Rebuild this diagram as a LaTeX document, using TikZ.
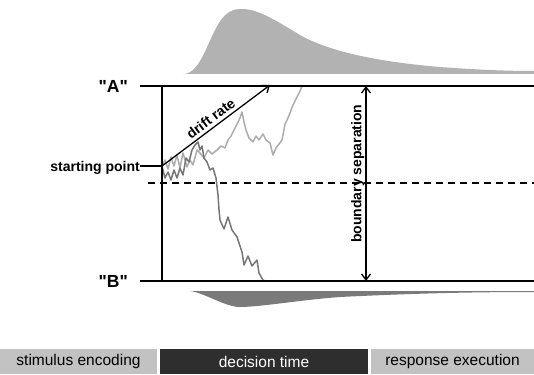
\documentclass[tikz,border=0pt]{standalone}
\usepackage{fontspec}
\setmainfont{Liberation Sans}
\usetikzlibrary{arrows.meta}
\definecolor{rtupper}{RGB}{178,178,178}
\definecolor{rtlower}{RGB}{122,122,122}
\definecolor{walklight}{RGB}{172,172,172}
\definecolor{walkdark}{RGB}{118,118,118}
\definecolor{phaselight}{RGB}{194,194,194}
\definecolor{phasedark}{RGB}{46,46,46}

\begin{document}
\begin{tikzpicture}[x=1pt, y=-1pt, >={Straight Barb[length=6pt, width=9pt]},
  bound/.style={line width=1.3pt},
  lbl/.style={font=\bfseries\fontsize{14}{16}\selectfont, inner sep=1pt},
  resp/.style={font=\bfseries\fontsize{17.5}{19}\selectfont, inner sep=0pt},
  walk/.style={line width=1.5pt, line join=round},
  phase/.style={minimum height=25pt, inner sep=0pt, font=\fontsize{15.5}{17}\selectfont}]
  \useasboundingbox (0,0) rectangle (534,374);

  \fill[rtupper] (183,74) .. controls (198,74) and (205,50) .. (215,30)
    .. controls (225,10) and (234,9) .. (242,9)
    .. controls (258,9) and (275,20) .. (300,35)
    .. controls (330,52) and (380,62) .. (440,67)
    .. controls (480,70) and (510,71) .. (534,71) -- (534,74) -- cycle;
  \fill[rtlower] (190,291) .. controls (205,293) and (225,307) .. (240,307)
    .. controls (260,307) and (300,300) .. (340,297)
    .. controls (420,293) and (480,292) .. (534,292) -- (534,291) -- cycle;

  \coordinate (atop) at (140,86);
  \coordinate (btop) at (140,281);
  \coordinate (ltop) at (162,86);
  \coordinate (lbot) at (162,281);
  \coordinate (start) at (162,166);
  \coordinate (spl) at (140,166);
  \coordinate (drift) at (270,85);
  \coordinate (sepbot) at (366,281);
  \coordinate (septop) at (366,86);

  \draw[walk, walklight] plot coordinates {(162,166) (165,160) (168,169) (171,157)
    (174,166) (177,155) (180,168) (183,153) (187,167) (190,160) (193,165) (197,150)
    (200,153) (204,158) (208,150) (212,154) (217,150) (221,146) (225,148) (228,140)
    (231,136) (234,130) (236,126) (238,122) (240,118) (242,112) (244,122) (246,130)
    (249,138) (253,142) (256,136) (259,140) (263,134) (266,140) (270,143) (273,155)
    (276,148) (279,144) (282,140) (285,124) (288,118) (290,113) (293,105) (297,97)
    (300,91) (302,86)};
  \draw[walk, walkdark] plot coordinates {(162,166) (165,178) (168,172) (171,180)
    (174,170) (177,178) (180,168) (183,175) (186,158) (189,162) (192,150) (195,145)
    (198,142) (200,150) (202,146) (204,158) (207,162) (210,170) (213,168) (216,178)
    (218,195) (219,210) (220,220) (224,229) (228,217) (232,230) (237,237) (242,252)
    (244,265) (248,256) (252,266) (257,260) (259,273) (263,280) (265,281)};

  \draw[bound] (atop) -- (534,86);
  \draw[bound] (btop) -- (534,281);
  \draw[bound] (ltop) -- (lbot);
  \draw[line width=1.1pt, dash pattern=on 7pt off 5pt] (148,183) -- (534,183);
  \draw[bound] (spl) -- (start);
  \draw[bound, ->] (start) -- (drift)
    node[lbl, midway, sloped, above, inner sep=3pt] {drift rate};
  \draw[bound, <->] (sepbot) -- (septop)
    node[lbl, pos=0.55, sloped, above] {boundary separation};

  \node[resp, anchor=east] (ra) at ([xshift=-12pt]atop) {\textquotedbl A\textquotedbl};
  \node[resp, anchor=east] (rb) at ([xshift=-12pt]btop) {\textquotedbl B\textquotedbl};
  \node[lbl, anchor=east, inner sep=0pt] (sp) at ([yshift=-2pt]spl) {starting point};

  \node[phase, fill=phaselight, minimum width=157pt] (enc) at (78.5,361.5) {stimulus encoding};
  \node[phase, fill=phasedark, text=white, minimum width=208pt] (dec) at (264,361.5) {decision time};
  \node[phase, fill=phaselight, minimum width=163pt] (exe) at (452.5,361.5) {response execution};
\end{tikzpicture}
\end{document}
